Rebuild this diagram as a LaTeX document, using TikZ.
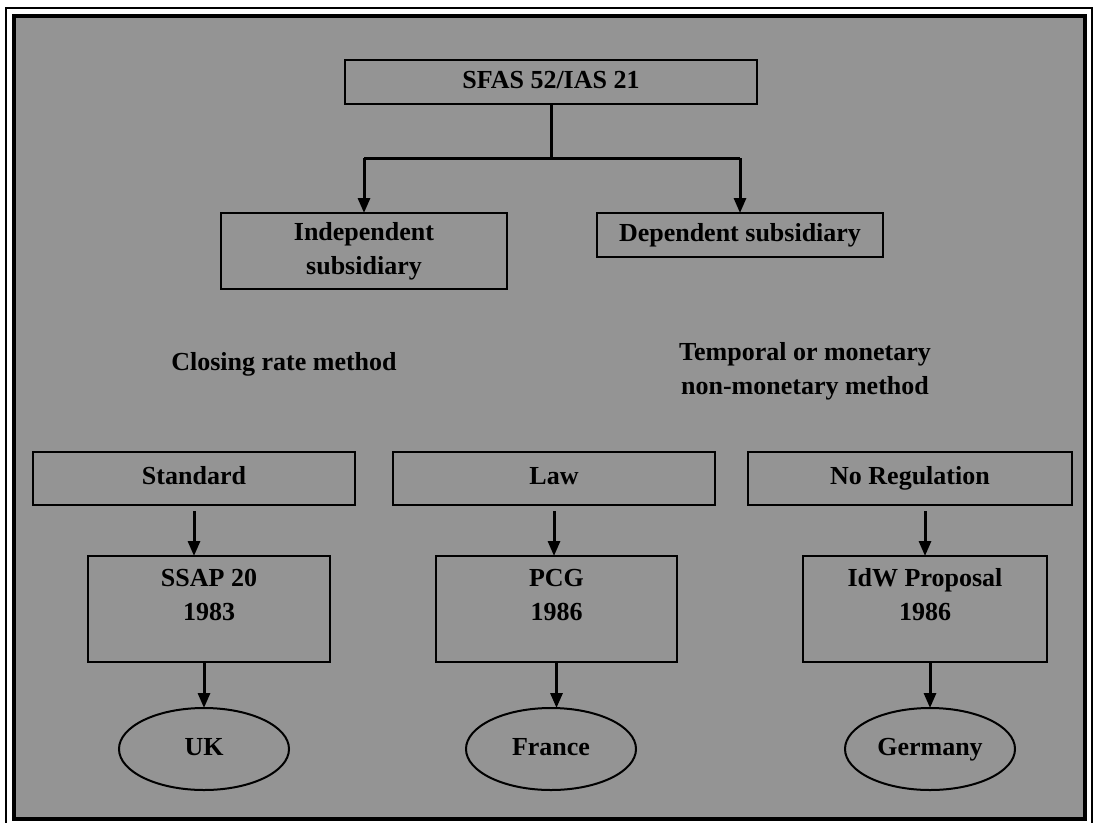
\documentclass[tikz,border=0pt]{standalone}
\usepackage{fontspec}
\setmainfont{Liberation Serif}
\usetikzlibrary{arrows.meta,shapes.geometric}
\begin{document}
\begin{tikzpicture}[x=1pt,y=-1pt,
  every node/.style={font=\bfseries\fontsize{26}{34}\selectfont, inner sep=0pt, outer sep=0pt},
  box/.style={draw, line width=2pt, rectangle},
  oval/.style={draw, line width=2pt, ellipse},
  txt/.style={align=center},
  oneline/.style={text height=18pt, text depth=6pt},
  link/.style={line width=3pt},
  arr/.style={line width=3pt, -{Triangle[length=15pt,width=12pt]}},
]
\useasboundingbox (0,0) rectangle (1094,822);
\clip (0,0) rectangle (1094,822);
\fill[white] (0,0) rectangle (1094,822);

% double frame with shaded panel
\draw[line width=2pt] (5.5,8) rectangle (1091.5,830);
\fill[black!42] (14,16) rectangle (1085,819);
\draw[line width=4.5pt] (14,16) rectangle (1085,819);

% top standard
\node[box, oneline, minimum width=412pt, minimum height=44pt] (sfas) at (551,82) {SFAS 52/IAS 21};

% subsidiary types
\node[box, txt, minimum width=286pt, minimum height=76pt] (indep) at (364,251) {Independent\\subsidiary};
\node[box, oneline, minimum width=286pt, minimum height=44pt] (dep) at (740,235) {Dependent subsidiary};

\coordinate (split) at (551,158);
\draw[link] (sfas.south) -- (split);
\draw[link] (indep.north |- split) -- (dep.north |- split);
\draw[arr] (indep.north |- split) -- (indep.north);
\draw[arr] (dep.north |- split) -- (dep.north);

% methods
\node[txt, oneline] (closing) at (284,364) {Closing rate method};
\node[txt] (temporal) at (805,371) {Temporal or monetary\\non-monetary method};

% regulation type
\node[box, oneline, minimum width=322pt, minimum height=53pt] (std) at (194,478.5) {Standard};
\node[box, oneline, minimum width=322pt, minimum height=53pt] (law) at (554,478.5) {Law};
\node[box, oneline, minimum width=324pt, minimum height=53pt] (noreg) at (910,478.5) {No Regulation};

% pronouncements
\node[box, minimum width=242pt, minimum height=106pt] (ssap) at (209,609) {};
\node[box, minimum width=241pt, minimum height=106pt] (pcg) at (556.5,609) {};
\node[box, minimum width=244pt, minimum height=106pt] (idw) at (925,609) {};
\node[txt] (ssaplbl) at ([yshift=14pt]ssap.center) {SSAP 20\\1983};
\node[txt] (pcglbl) at ([yshift=14pt]pcg.center) {PCG\\1986};
\node[txt] (idwlbl) at ([yshift=14pt]idw.center) {IdW Proposal\\1986};

% countries
\node[oval, oneline, minimum width=170pt, minimum height=82pt] (uk) at (204,749) {UK};
\node[oval, oneline, minimum width=170pt, minimum height=82pt] (fr) at (551,749) {France};
\node[oval, oneline, minimum width=170pt, minimum height=82pt] (de) at (930,749) {Germany};

% links between rows
\draw[arr] ([yshift=-6pt]std.south) -- (std.south |- ssap.north);
\draw[arr] ([yshift=-6pt]law.south) -- (law.south |- pcg.north);
\draw[arr] ([yshift=-6pt]idw.north |- noreg.south) -- (idw.north);
\draw[arr] (uk.north |- ssap.south) -- (uk.north);
\draw[arr] (pcg.south) -- (pcg.south |- fr.north);
\draw[arr] (de.north |- idw.south) -- (de.north);
\end{tikzpicture}
\end{document}
